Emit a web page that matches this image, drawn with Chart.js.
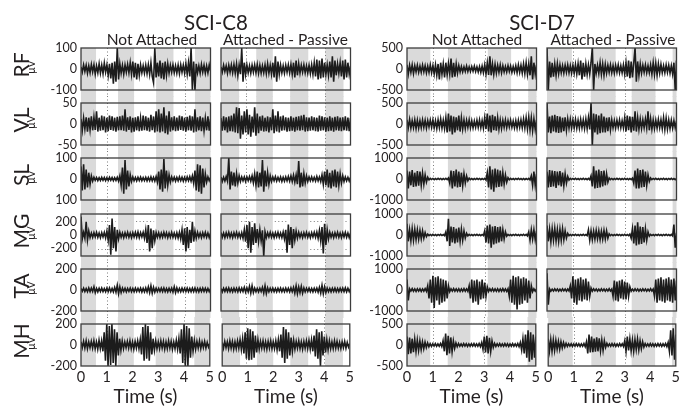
<!DOCTYPE html>
<html>
<head>
<meta charset="utf-8">
<script src="https://cdn.jsdelivr.net/npm/chart.js@4.4.1/dist/chart.umd.min.js"></script>
<style>
  body { margin: 0; background: #fff; width: 690px; height: 408px; position: relative; overflow: hidden;
         font-family: Lato, "Open Sans", sans-serif; color: #231f20; }
  canvas { position: absolute; }
  .txt { position: absolute; white-space: nowrap; transform: translate(-50%, -50%); line-height: 1; }
  .rot { transform: translate(-50%, -50%) rotate(-90deg); }
</style>
</head>
<body>
<script>
// --- labels ---
const subjects = ['SCI-C8', 'SCI-D7'];
const conditions = ['Not Attached', 'Attached - Passive'];
const muscles = ['RF', 'VL', 'SL', 'MG', 'TA', 'MH'];
const timeTicks = [0, 1, 2, 3, 4, 5];
const sampleStep = 0.05; // seconds between the peaks

// y range (uV) and tick labels for each muscle row
const c8Limits = [100, 50, 100, 320, 200, 200];
const d7Limits = [500, 500, 1000, 1000, 1000, 500];
const c8TickValues = [[-100, 0, 100], [-50, 0, 50], [-100, 0, 100], [-200, 0, 200], [-200, 0, 200], [-200, 0, 200]];
const c8TickLabels = [['-100', '0', '100'], ['-50', '0', '50'], ['100', '0', '100'], ['-200', '0', '200'], ['-200', '0', '200'], ['-200', '0', '200']];
const d7TickValues = [[-500, 0, 500], [-500, 0, 500], [-1000, 0, 1000], [-1000, 0, 1000], [-1000, 0, 1000], [-500, 0, 500]];
const d7TickLabels = [['-500', '0', '500'], ['-500', '0', '500'], ['-1000', '0', '1000'], ['-1000', '0', '1000'], ['-1000', '0', '1000'], ['-500', '0', '500']];

// grey stance phases (s) and dotted markers (s) per column
const c8NaStance = [[0, 0.58], [1.43, 2.05], [2.9, 3.57], [4.4, 5]];
const c8ApStance = [[0, 0.7], [1.36, 2.0], [2.67, 3.37], [4.03, 4.73]];
const d7NaStance = [[0, 0.9], [1.58, 2.46], [3.12, 4.02], [4.68, 5]];
const d7ApStance = [[0, 0.96], [1.69, 2.65], [3.27, 4.19], [4.85, 5]];
const c8NaMarks = [1, 4];
const c8ApMarks = [0.95, 4];
const d7NaMarks = [1, 3];
const d7ApMarks = [1, 3];
const c8MgThreshold = 210;

// --- EMG peaks, uV, one every 0.05 s from 0 to 5 s ---
const c8_RF_na = [10,-15,20,-12,18,-20,15,-18,22,-14, 20,-25,15,-18,25,-20,18,-22,28,-15,
  20,-30,25,-45,30,-70,35,-60,100,-50, 25,-20,18,-25,20,-15,22,-18,30,-25,
  35,-40,30,-50,25,-30,20,-18,15,-20, 18,-22,20,-25,30,-35,-65,100,-40,30,
  -35,40,-45,30,-50,35,-30,25,-20,18, -15,20,-18,15,-20,18,-22,20,-15,18,
  -20,25,-25,30,-35,100,-100,35,-100,25, -18,15,-20,22,-15,18,-20,15,-18,20,-10];
const c8_RF_ap = [10,-15,18,-12,15,-20,18,-15,20,-18, 22,-20,25,-30,20,-25,100,-60,30,-25,
  20,-18,15,-20,18,-15,20,-18,22,-20, 18,-20,15,-18,20,-22,25,-20,18,-25,
  30,-40,60,-60,35,-25,20,-18,15,-20, 18,-15,20,-18,22,-25,30,-40,40,-30,
  25,-20,18,-15,20,-18,15,-20,18,-22, 20,-25,30,-35,45,-50,40,-45,50,-40,
  30,-25,20,-30,35,-40,60,-60,40,-30, 25,-20,30,-35,40,-50,45,-40,30,-25,15];
const c8_VL_na = [12,-15,14,-12,16,-18,15,-14,18,-15, 16,-14,30,-18,15,-16,20,-15,18,-20,
  15,-17,20,-14,18,-16,15,-18,17,-15, 18,-15,20,-16,35,-18,16,-14,18,-20,
  15,-18,16,-15,18,-17,14,-16,20,-15, 18,-16,15,-18,22,-15,18,-20,30,-18,
  35,-20,25,-18,40,-22,20,-25,30,-18, 16,-15,18,-17,15,-16,20,-14,18,-16,
  15,-18,17,-15,20,-16,18,-20,35,-18, 16,-15,18,-17,15,-16,14,-15,18,-16,12];
const c8_VL_ap = [14,-16,18,-15,16,-20,18,-17,20,-18, 25,-20,40,-22,38,-35,20,-25,30,-20,
  35,-25,22,-30,18,-20,40,-28,25,-22, 18,-16,20,-18,15,-17,18,-20,16,-15,
  35,-22,20,-18,30,-20,18,-16,20,-15, 16,-18,15,-17,18,-16,15,-18,17,-15,
  18,-16,20,-15,22,-18,16,-17,15,-16, 18,-15,16,-17,15,-18,20,-16,18,-15,
  16,-18,15,-17,18,-16,15,-18,17,-15, 18,-16,15,-17,16,-15,18,-16,15,-17,14];
const c8_SL_na = [60,-55,70,-50,45,-40,30,-25,15,-10, 8,-6,7,-8,6,-7,8,-6,7,-8,
  6,-7,8,-6,7,-8,6,-7,8,-10, 15,-30,55,-70,90,-50,40,-35,20,-12,
  10,-8,7,-9,8,-7,9,-8,7,-8, 8,-9,7,-8,10,-9,8,-10,12,-15,
  35,-50,45,-60,95,-45,40,-30,20,-15, 10,-8,9,-10,8,-9,10,-8,9,-10,
  8,-9,10,-8,12,-10,15,-20,40,-55, 70,-60,65,-70,50,-40,25,-15,10,-8,8];
const c8_SL_ap = [10,-12,8,-10,12,-10,100,-50,35,-30, 30,-35,25,-20,15,-12,10,-8,10,-12,
  10,-8,12,-10,15,-18,25,-30,35,-40, 30,-35,90,-60,40,-35,30,-25,15,-12,
  10,-8,12,-10,8,-9,10,-12,8,-10, 10,-9,12,-10,15,-12,18,-15,20,-25,
  85,-40,30,-35,25,-20,15,-12,10,-8, 10,-9,8,-10,12,-9,10,-12,20,-25,
  35,-30,45,-40,30,-45,40,-35,45,-40, 35,-30,25,-20,15,-12,10,-9,8,-10,8];
const c8_MG_na = [280,-60,40,-50,200,-80,60,-40,30,-35, 35,-30,40,-35,30,-40,35,-30,40,-45,
  60,-80,150,-300,250,-200,120,-250,80,-60, 40,-35,30,-40,35,-30,40,-35,30,-40,
  35,-30,40,-35,45,-40,35,-30,40,-50, 80,-120,150,-250,100,-200,70,-90,40,-35,
  35,-40,30,-35,40,-30,35,-40,30,-35, 40,-35,30,-40,35,-45,40,-60,80,-150,
  100,-250,120,-200,80,-120,200,-100,60,-50, 40,-35,30,-40,35,-30,40,-35,30,-40,30];
const c8_MG_ap = [40,-35,30,-40,35,-30,40,-35,30,-40, 35,-30,40,-35,30,-40,35,-50,80,-100,
  150,-200,200,-270,120,-150,180,-120,90,-100, 80,-90,70,-320,50,-40,35,-30,40,-35,
  30,-40,35,-30,40,-35,30,-40,45,-60, 80,-270,160,-150,120,-200,90,-80,60,-50,
  40,-35,30,-40,35,-30,40,-35,30,-40, 35,-30,40,-35,45,-50,70,-90,120,-280,
  170,-150,80,-60,40,-35,30,-40,35,-30, 40,-35,30,-40,35,-30,40,-35,30,-40,30];
const c8_TA_na = [15,-12,18,-15,14,-16,20,-15,18,-14, 30,-25,15,-18,16,-14,18,-15,14,-16,
  18,-15,20,-16,15,-18,25,-20,45,-35, 30,-25,18,-15,16,-18,15,-14,18,-16,
  15,-16,18,-14,16,-15,18,-20,15,-18, 20,-18,30,-25,40,-30,25,-20,18,-15,
  16,-14,18,-15,20,-16,15,-18,16,-15, 18,-20,30,-25,20,-18,15,-16,18,-14,
  16,-15,18,-16,15,-17,18,-15,20,-16, 15,-18,16,-14,18,-15,16,-17,15,-16,14];
const c8_TA_ap = [15,-18,16,-14,18,-15,20,-16,15,-18, 18,-15,16,-18,20,-16,18,-15,25,-20,
  20,-18,35,-30,40,-25,18,-16,15,-18, 16,-15,25,-30,40,-35,20,-18,16,-15,
  18,-16,15,-18,16,-15,18,-17,15,-16, 18,-15,16,-18,20,-16,25,-30,40,-35,
  30,-25,35,-30,20,-18,16,-15,18,-16, 15,-18,16,-15,18,-20,25,-30,45,-35,
  30,-25,18,-16,15,-18,16,-15,18,-16, 15,-17,16,-15,18,-16,20,-18,16,-15,14];
const c8_MH_na = [30,-25,35,-30,40,-35,30,-25,35,-30, 40,-35,30,-40,45,-35,40,-60,120,-150,
  200,-200,180,-190,200,-170,150,-200,120,-100, 60,-50,40,-35,30,-25,35,-30,40,-35,
  30,-40,35,-30,40,-35,50,-90,170,-150, 200,-130,180,-150,120,-90,60,-50,40,-35,
  30,-35,40,-30,35,-40,30,-35,40,-30, 35,-40,30,-35,45,-40,60,-80,150,-170,
  200,-200,180,-200,160,-120,80,-60,45,-40, 35,-30,40,-35,30,-25,35,-30,25,-20,15];
const c8_MH_ap = [25,-30,35,-25,30,-35,40,-30,35,-40, 30,-35,40,-30,50,-45,60,-80,120,-130,
  160,-145,150,-140,130,-120,90,-70,50,-40, 35,-30,40,-35,30,-40,35,-30,40,-35,
  30,-35,40,-45,50,-60,100,-120,170,-170, 150,-130,120,-100,70,-60,45,-40,35,-30,
  40,-35,30,-40,35,-30,40,-35,45,-40, 50,-60,90,-110,150,-130,120,-200,130,-100,
  80,-70,50,-45,40,-35,30,-35,40,-30, 35,-30,25,-35,30,-25,35,-30,25,-20,15];

const d7_RF_na = [100,-120,90,-80,100,-110,80,-70,90,-80, 70,-80,90,-70,80,-90,70,-80,100,-90,
  80,-120,100,-150,120,-250,150,-130,120,-200, 150,-140,130,-120,250,-200,150,-180,120,-100,
  80,-70,60,-70,50,-60,70,-60,50,-60, 60,-50,70,-60,50,-70,60,-80,70,-90,
  100,-120,150,-140,300,-150,120,-130,110,-100, 90,-80,100,-90,80,-70,60,-70,80,-60,
  70,-80,60,-70,80,-90,100,-80,90,-100, 120,-110,150,-130,120,-150,300,-250,150,-120,100];
const d7_RF_ap = [500,-500,180,-200,150,-180,120,-150,130,-110, 100,-90,80,-100,90,-80,100,-90,80,-100,
  90,-100,110,-120,130,-150,200,-250,150,-180, 120,-130,100,-120,150,500,-500,120,-100,90,
  -110,150,-130,120,-150,110,-100,90,-80,100, -90,80,-100,90,-80,100,-90,80,-90,100,
  -120,150,-180,200,-220,180,-200,150,500,-300, 180,-150,120,-100,90,-80,100,-90,80,-90,
  100,-120,150,-130,140,-150,120,-100,110,-90, 80,-90,100,-80,90,-100,80,-120,150,-500,200];
const d7_VL_na = [100,-90,110,-100,80,-90,100,-110,90,-100, 80,-90,100,-80,90,-100,80,-70,90,-80,
  100,-90,80,-110,100,-90,120,-100,90,-110, 150,-200,250,-180,200,-250,180,-200,160,-150,
  200,-180,150,-120,100,-110,90,-80,100,-90, 80,-90,70,-80,90,-80,100,-90,80,-100,
  150,-120,250,-180,200,-200,220,-150,180,-160, 150,-120,100,-110,90,-80,100,-90,80,-70,
  90,-80,70,-90,80,-100,90,-80,100,-90, 120,-100,150,-120,160,-140,150,-160,120,-130,100];
const d7_VL_ap = [500,-200,180,-220,200,-180,220,-200,190,-210, 180,-200,150,-170,160,-150,120,-100,110,-100,
  100,-90,110,-100,90,-100,110,-90,100,-110, 120,-110,150,-130,500,-500,250,-200,230,-250,
  200,-220,250,-200,180,-200,150,-170,160,-140, 100,-90,80,-100,90,-80,100,-90,80,-90,
  150,-180,200,-150,180,-200,170,-160,300,-180, 150,-130,120,-110,100,-90,120,-100,300,-150,
  130,-120,100,-110,90,-100,110,-90,100,-110, 150,-130,140,-120,100,-110,90,-100,80,-90,80];
const d7_SL_na = [400,-450,350,-300,420,-380,300,-350,380,-320, 350,-300,280,-250,200,-150,80,-40,30,-25,
  25,-30,20,-25,30,-20,25,-30,20,-25, 30,-25,50,-200,400,-450,380,-350,450,-400,
  350,-380,300,-320,250,-200,150,-80,40,-30, 25,-30,20,-25,30,-20,25,-30,20,-25,
  30,-60,300,-400,600,-500,450,-600,500,-400, 450,-380,400,-350,300,-250,200,-150,60,-35,
  30,-25,20,-30,25,-20,30,-25,20,-30, 25,-30,20,-25,30,-40,150,-300,350,-300,250];
const d7_SL_ap = [350,-400,420,-380,400,-350,380,-420,350,-300, 380,-350,300,-320,250,-200,120,-50,30,-25,
  25,-20,30,-25,20,-30,25,-20,30,-25, 20,-30,25,-40,150,-350,600,-450,400,-420,
  450,-400,380,-350,400,-300,250,-150,50,-30, 25,-30,20,-25,30,-20,25,-30,20,-25,
  30,-25,20,-30,25,-30,40,-200,400,-450, 500,-450,420,-400,450,-380,350,-300,200,-120,
  50,-30,25,-20,30,-25,20,-30,25,-20, 30,-25,20,-30,25,-20,30,-25,20,-30,25];
const d7_MG_na = [530,-300,250,-280,300,-250,280,-220,250,-200, 220,-180,200,-150,120,-80,40,-30,25,-30,
  30,-25,20,-30,25,-20,30,-25,20,-30, 150,-300,770,-520,400,-350,380,-400,300,-350,
  350,-300,280,-250,200,-150,80,-40,30,-25, 20,-30,25,-20,30,-25,20,-30,25,-30,
  200,-350,450,-400,500,-600,400,-450,420,-400, 380,-350,400,-300,250,-200,150,-60,30,-25,
  20,-30,25,-20,30,-25,20,-30,25,-20, 30,-25,30,-40,150,-250,250,-200,250,-230,200];
const d7_MG_ap = [450,-300,280,-320,300,-250,320,-280,260,-300, 280,-250,300,-220,200,-150,80,-30,25,-30,
  25,-20,30,-25,20,-30,25,-20,30,-25, 20,-30,250,-250,200,-220,180,-200,220,-180,
  200,-220,180,-200,220,-190,200,-150,60,-30, 25,-30,20,-25,30,-20,25,-30,20,-25,
  30,-25,20,-30,40,-150,300,-400,450,-500, 600,-450,400,-420,380,-350,300,-250,150,-60,
  30,-25,20,-30,25,-20,30,-25,20,-30, 25,-20,30,-25,20,-30,25,-40,500,-600,100];
const d7_TA_na = [500,-500,60,-50,70,-60,50,-70,60,-50, 60,-70,50,-60,70,-60,200,-400,500,-600,
  680,-850,600,-500,650,-700,550,-600,500,-550, 450,-400,200,-80,60,-50,70,-60,50,-60,
  60,-70,50,-60,70,-60,50,-70,200,-400, 500,-600,450,-550,500,-700,400,-450,500,-400,
  350,-300,150,-70,60,-50,70,-60,50,-60, 60,-70,50,-60,70,-60,50,-70,60,-300,
  500,-600,680,-700,600,-930,650,-700,550,-650, 600,-500,550,-600,450,-400,200,-80,60,-50,50];
const d7_TA_ap = [800,-700,50,-60,40,-50,60,-40,50,-60, 40,-50,60,-40,50,-60,45,-50,200,-400,
  650,-600,500,-700,550,-500,600,-550,500,-450, 550,-500,400,-300,100,-50,60,-40,50,-60,
  40,-50,60,-40,50,-60,40,-50,60,-50, 40,-300,450,-500,400,-550,450,-400,500,-450,
  400,-450,350,-300,150,-60,40,-50,60,-40, 50,-60,40,-50,60,-40,50,-60,40,-50,
  60,-50,40,-300,500,-600,550,-500,600,-550, 500,-600,550,-500,600,-550,500,-600,550,-500,450];
const d7_MH_na = [200,-220,180,-200,150,-170,140,-150,120,-130, 100,-110,80,-90,70,-60,50,-40,30,-35,
  30,-25,35,-30,25,-30,35,-40,100,-150, 270,-240,220,-200,180,-160,100,-80,50,-40,
  35,-30,25,-30,35,-25,30,-35,25,-30, 30,-25,35,-30,25,-30,35,-40,60,-100,
  200,-180,220,-200,170,-150,100,-60,40,-35, 30,-25,35,-30,25,-30,35,-25,30,-35,
  25,-30,35,-30,25,-30,35,-40,60,-120, 150,-200,250,-300,350,-400,300,-350,250,-300,200];
const d7_MH_ap = [150,-140,130,-150,120,-130,110,-100,90,-100, 80,-70,60,-50,40,-35,30,-25,30,-35,
  25,-30,35,-25,30,-35,25,-30,35,-40, 80,-200,250,-180,200,-170,150,-160,180,-150,
  160,-140,120,-130,100,-60,40,-30,25,-30, 35,-25,30,-35,25,-30,35,-25,30,-35,
  100,-150,200,-130,150,-140,120,-150,130,-110, 140,-120,100,-90,80,-50,35,-30,25,-30,
  35,-25,30,-35,25,-30,35,-25,30,-35, 30,-25,35,-40,60,-150,350,-250,400,-350,250];

const c8Signals = [[c8_RF_na, c8_RF_ap], [c8_VL_na, c8_VL_ap], [c8_SL_na, c8_SL_ap],
                   [c8_MG_na, c8_MG_ap], [c8_TA_na, c8_TA_ap], [c8_MH_na, c8_MH_ap]];
const d7Signals = [[d7_RF_na, d7_RF_ap], [d7_VL_na, d7_VL_ap], [d7_SL_na, d7_SL_ap],
                   [d7_MG_na, d7_MG_ap], [d7_TA_na, d7_TA_ap], [d7_MH_na, d7_MH_ap]];

// --- layout (px) ---
const colLefts = [81, 221, 407, 547];
const panelW = 129.5;
const rowTops = [48, 103.2, 158.4, 213.6, 268.8, 324];
const panelH = 42;
const ink = '#231f20';

Chart.defaults.font.family = 'Lato, "Open Sans", sans-serif';
Chart.defaults.color = ink;

function addText(text, cx, cy, size, rotated) {
  const d = document.createElement('div');
  d.className = rotated ? 'txt rot' : 'txt';
  d.textContent = text;
  d.style.left = cx + 'px';
  d.style.top = cy + 'px';
  d.style.fontSize = size + 'px';
  document.body.appendChild(d);
}

function openIntervals(stance) {
  // white (swing) parts of the 0..5 s window
  const out = [];
  let t = 0;
  stance.forEach(([s, e]) => { if (s > t) out.push([t, s]); t = e; });
  if (t < 5) out.push([t, 5]);
  return out;
}

function makePanel(subj, col, row) {
  const signal = (subj === 0 ? c8Signals : d7Signals)[row][col];
  const lim = (subj === 0 ? c8Limits : d7Limits)[row];
  const tickVals = (subj === 0 ? c8TickValues : d7TickValues)[row];
  const tickLbls = (subj === 0 ? c8TickLabels : d7TickLabels)[row];
  const stance = [[c8NaStance, c8ApStance], [d7NaStance, d7ApStance]][subj][col];
  const marks = [[c8NaMarks, c8ApMarks], [d7NaMarks, d7ApMarks]][subj][col];
  const threshold = (subj === 0 && muscles[row] === 'MG') ? c8MgThreshold : null;

  const first = col === 0;
  const last = row === muscles.length - 1;
  const yW = first ? 60 : 0;
  const padL = first ? 0 : 6, padR = 6, padT = 12, padB = last ? 0 : 12;
  const xH = last ? 42 : 0;

  const cv = document.createElement('canvas');
  cv.width = Math.ceil(yW + padL + panelW + padR);
  cv.height = Math.ceil(padT + panelH + padB + xH);
  cv.style.left = (colLefts[subj * 2 + col] - yW - padL) + 'px';
  cv.style.top = (rowTops[row] - padT) + 'px';
  document.body.appendChild(cv);
  // keep the chart area exactly panelW wide
  const extraR = cv.width - (yW + padL + panelW + padR);
  const extraB = cv.height - (padT + panelH + padB + xH);

  const decor = {
    id: 'decor',
    beforeDatasetsDraw(chart) {
      const { ctx, chartArea: a, scales: { x, y } } = chart;
      const top = row === 0 ? a.top : a.top - 7;
      const bottom = last ? a.bottom : a.bottom + 7;
      ctx.save();
      ctx.fillStyle = '#dadada';
      stance.forEach(([s, e]) => {
        const x0 = x.getPixelForValue(s), x1 = x.getPixelForValue(e);
        ctx.fillRect(x0, top, x1 - x0, bottom - top);
      });
      ctx.strokeStyle = '#7a7a7a';
      ctx.lineWidth = 1;
      ctx.setLineDash([1, 2.5]);
      marks.forEach(m => {
        const px = Math.round(x.getPixelForValue(m)) + 0.5;
        ctx.beginPath(); ctx.moveTo(px, top); ctx.lineTo(px, bottom); ctx.stroke();
      });
      if (threshold) {
        openIntervals(stance).forEach(([s, e]) => {
          [threshold, -threshold].forEach(v => {
            const py = Math.round(y.getPixelForValue(v)) + 0.5;
            ctx.beginPath(); ctx.moveTo(x.getPixelForValue(s) + 2, py); ctx.lineTo(x.getPixelForValue(e) - 2, py); ctx.stroke();
          });
        });
      }
      ctx.restore();
    },
    afterDraw(chart) {
      const { ctx, chartArea: a } = chart;
      ctx.save();
      ctx.strokeStyle = '#3d3d3d';
      ctx.lineWidth = 1.3;
      ctx.strokeRect(a.left, a.top, a.right - a.left, a.bottom - a.top);
      ctx.restore();
    }
  };

  new Chart(cv, {
    type: 'line',
    data: {
      datasets: [{
        data: signal.map((v, i) => ({ x: i * sampleStep, y: v })),
        borderColor: '#1c1c1c',
        borderWidth: 1.6,
        borderJoinStyle: 'miter',
        pointRadius: 0,
        tension: 0
      }]
    },
    plugins: [decor],
    options: {
      responsive: false,
      animation: false,
      events: [],
      layout: { padding: { top: padT, bottom: padB + extraB, left: padL, right: padR + extraR } },
      plugins: { legend: { display: false }, tooltip: { enabled: false } },
      scales: {
        x: {
          type: 'linear', min: 0, max: 5, display: last,
          grid: { display: false, drawTicks: false }, border: { display: false },
          afterBuildTicks: ax => { ax.ticks = timeTicks.map(v => ({ value: v })); },
          ticks: { autoSkip: false, maxRotation: 0, padding: 3, font: { size: 14.5 }, color: ink },
          title: { display: true, text: 'Time (s)', font: { size: 19 }, color: ink, padding: 0 },
          afterFit: ax => { ax.height = xH; }
        },
        y: {
          min: -lim, max: lim, display: first,
          grid: { display: false, drawTicks: false }, border: { display: false },
          afterBuildTicks: ax => { ax.ticks = tickVals.map(v => ({ value: v })); },
          ticks: { autoSkip: false, padding: 4, font: { size: 12.5 }, color: ink,
                   callback: (v, i) => tickLbls[i] },
          afterFit: ax => { ax.width = yW; }
        }
      }
    }
  });
}

for (let s = 0; s < subjects.length; s++)
  for (let c = 0; c < conditions.length; c++)
    for (let r = 0; r < muscles.length; r++)
      makePanel(s, c, r);

// titles
addText(subjects[0], 216, 21.5, 20.5);
addText(subjects[1], 542, 21.5, 20.5);
addText(conditions[0], 152, 40, 15.5);
addText(conditions[1], 285.5, 40, 15.5);
addText(conditions[0], 477, 40, 15.5);
addText(conditions[1], 613, 40, 15.5);

// row labels for the SCI-C8 block
muscles.forEach((m, r) => {
  const cy = rowTops[r] + panelH / 2;
  addText(m, 19.5, cy - 4, 21, true);
  addText('\u03bcV', 31, cy - 2, 10.5, true);
});
</script>
</body>
</html>
